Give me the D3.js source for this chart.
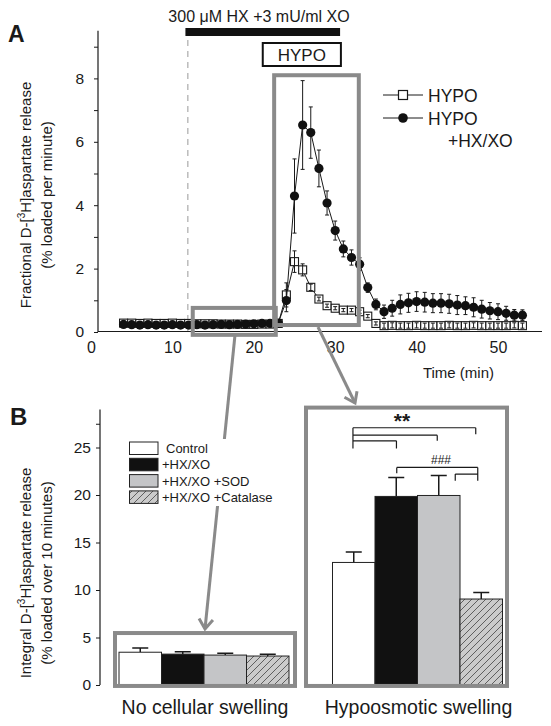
<!DOCTYPE html>
<html><head><meta charset="utf-8">
<script src="https://cdn.jsdelivr.net/npm/d3@7"></script>
<style>
body{margin:0;background:#fff}
svg{display:block}
text{font-family:"Liberation Sans",Arial,Helvetica,sans-serif;fill:#1a1a1a}
</style>
</head><body>
<svg id="c" width="551" height="726"></svg>
<script>
// ---------- Panel A data ----------
const times = [4,5,6,7,8,9,10,11,12,13,14,15,16,17,18,19,20,21,22,23,24,25,26,27,28,29,30,31,32,33,34,35,36,37,38,39,40,41,42,43,44,45,46,47,48,49,50,51,52,53];
const hypoVals = [0.28,0.28,0.27,0.28,0.27,0.27,0.28,0.27,0.27,0.26,0.26,0.26,0.25,0.25,0.25,0.24,0.24,0.25,0.25,0.27,
  1.17,2.22,1.96,1.41,1.04,0.83,0.75,0.69,0.69,0.64,0.50,0.27,
  0.20,0.21,0.20,0.20,0.21,0.20,0.20,0.20,0.21,0.20,0.20,0.21,0.20,0.20,0.20,0.20,0.21,0.20];
const hypoErr = [0.04,0.04,0.04,0.04,0.04,0.04,0.04,0.04,0.04,0.04,0.04,0.04,0.04,0.04,0.04,0.04,0.04,0.04,0.04,0.05,
  0.38,0.34,0.19,0.10,0.06,0.05,0.05,0.05,0.05,0.05,0.05,0.05,
  0.08,0.08,0.08,0.08,0.08,0.08,0.08,0.08,0.08,0.08,0.08,0.08,0.08,0.08,0.08,0.08,0.08,0.08];
const hxxoVals = [0.24,0.23,0.22,0.23,0.22,0.22,0.23,0.22,0.22,0.23,0.22,0.23,0.24,0.23,0.24,0.25,0.26,0.27,0.27,0.28,
  0.99,4.29,6.53,6.29,5.16,4.07,3.20,2.62,2.35,2.14,1.40,0.87,
  0.64,0.75,0.87,0.92,0.96,0.94,0.91,0.91,0.89,0.85,0.83,0.78,0.72,0.67,0.64,0.59,0.53,0.53];
const hxxoErr = [0.05,0.05,0.05,0.05,0.05,0.05,0.05,0.05,0.05,0.05,0.05,0.05,0.05,0.05,0.05,0.05,0.05,0.05,0.05,0.05,
  0.35,1.17,1.40,0.81,0.58,0.38,0.30,0.25,0.24,0.20,0.15,0.17,
  0.21,0.25,0.30,0.30,0.31,0.31,0.30,0.30,0.30,0.30,0.28,0.30,0.28,0.26,0.25,0.22,0.18,0.17];
const xTickValsA = [0,10,20,30,40,50];
const yTickValsA = [0,1,2,3,4,5,6,7,8,9];
const yLabelValsA = [0,2,4,6,8];

// ---------- Panel B data ----------
const groups = ["No cellular swelling","Hypoosmotic swelling"];
const seriesB = ["Control","+HX/XO","+HX/XO +SOD","+HX/XO +Catalase"];
const controlVals = [3.45, 12.9];
const hxxoBVals = [3.25, 19.85];
const sodVals = [3.15, 19.95];
const catalaseVals = [3.05, 9.05];
const controlErr = [0.45, 1.1];
const hxxoBErr = [0.25, 2.0];
const sodErr = [0.2, 2.1];
const catalaseErr = [0.2, 0.7];
const yTickValsB = [0,5,10,15,20,25,27.5];

const svg = d3.select("#c");
const ink = "#1a1a1a", grayBox = "#8a8a8a";

// ================= PANEL A =================
const xT = d3.scaleLinear().domain([0,50]).range([91,498]);
const yT = d3.scaleLinear().domain([0,9.5]).range([332,30.85]);
const axX = 98;

svg.append("text").attr("x",8).attr("y",42).attr("font-size",23).attr("font-weight","bold").text("A");

svg.append("text").attr("x",259).attr("y",22).attr("text-anchor","middle").attr("font-size",16)
  .text("300 \u03BCM HX +3 mU/ml XO");
const hxStart = 11.6, hxEnd = 30.6, dashT = 11.9, hypoStart = 21.1, hypoEnd = 30.7;
svg.append("rect").attr("x",xT(hxStart)).attr("y",28).attr("width",xT(hxEnd)-xT(hxStart)).attr("height",8).attr("fill","#111");
svg.append("line").attr("x1",xT(dashT)).attr("x2",xT(dashT)).attr("y1",40).attr("y2",yT(0))
  .attr("stroke","#999").attr("stroke-width",1).attr("stroke-dasharray","6,5");
svg.append("rect").attr("x",xT(hypoStart)).attr("y",43).attr("width",xT(hypoEnd)-xT(hypoStart)).attr("height",23)
  .attr("fill","#fff").attr("stroke","#111").attr("stroke-width",2);
svg.append("text").attr("x",(xT(hypoStart)+xT(hypoEnd))/2).attr("y",61).attr("text-anchor","middle").attr("font-size",17).text("HYPO");

const gyA = svg.append("g").attr("transform",`translate(${axX},0)`)
  .call(d3.axisLeft(yT).tickValues(yTickValsA).tickSize(4).tickSizeOuter(0).tickPadding(10)
    .tickFormat(d => yLabelValsA.includes(d) ? d : ""));
gyA.select(".domain").remove();
gyA.selectAll("line").attr("stroke",ink);
gyA.selectAll("text").attr("font-size",15.5).attr("font-family",null).attr("fill",ink);
svg.append("line").attr("x1",axX).attr("x2",axX).attr("y1",yT(9.5)).attr("y2",yT(0)).attr("stroke",ink).attr("stroke-width",1.2);
svg.append("line").attr("x1",axX).attr("x2",542).attr("y1",yT(0)-0.5).attr("y2",yT(0)-0.5).attr("stroke",ink).attr("stroke-width",1.2);
const gxA = svg.append("g").attr("transform",`translate(0,${yT(0)})`)
  .call(d3.axisBottom(xT).tickValues(xTickValsA).tickSize(0).tickPadding(9.5));
gxA.select(".domain").remove();
gxA.selectAll("text").attr("font-size",16).attr("font-family",null).attr("fill",ink);
svg.append("text").attr("x",494).attr("y",378).attr("text-anchor","end").attr("font-size",15).text("Time (min)");

const ytA = svg.append("text").attr("transform","translate(31,195) rotate(-90)").attr("text-anchor","middle").attr("font-size",15);
ytA.append("tspan").text("Fractional D-[");
ytA.append("tspan").attr("dy",-6).attr("font-size",10).text("3");
ytA.append("tspan").attr("dy",6).text("H]aspartate release");
svg.append("text").attr("transform","translate(52,195) rotate(-90)").attr("text-anchor","middle").attr("font-size",15)
  .text("(% loaded per minute)");

const hypoData = times.map((t,i)=>({t, v:hypoVals[i], e:hypoErr[i]}));
const hxxoData = times.map((t,i)=>({t, v:hxxoVals[i], e:hxxoErr[i]}));
const line = d3.line().x(d=>xT(d.t)).y(d=>yT(d.v));

function errBars(g, data){
  const eb = g.selectAll(".eb").data(data).enter().append("g");
  eb.append("line").attr("x1",d=>xT(d.t)).attr("x2",d=>xT(d.t)).attr("y1",d=>yT(d.v+d.e)).attr("y2",d=>yT(d.v-d.e)).attr("stroke",ink).attr("stroke-width",1);
  eb.append("line").attr("x1",d=>xT(d.t)-2).attr("x2",d=>xT(d.t)+2).attr("y1",d=>yT(d.v+d.e)).attr("y2",d=>yT(d.v+d.e)).attr("stroke",ink).attr("stroke-width",1);
  eb.append("line").attr("x1",d=>xT(d.t)-2).attr("x2",d=>xT(d.t)+2).attr("y1",d=>yT(d.v-d.e)).attr("y2",d=>yT(d.v-d.e)).attr("stroke",ink).attr("stroke-width",1);
}
// squares series (drawn first)
{
  const g = svg.append("g");
  g.append("path").datum(hypoData).attr("d",line).attr("fill","none").attr("stroke",ink).attr("stroke-width",1);
  g.selectAll(".m").data(hypoData).enter().append("rect").attr("x",d=>xT(d.t)-4).attr("y",d=>yT(d.v)-4).attr("width",8).attr("height",8)
    .attr("fill","#fff").attr("stroke",ink).attr("stroke-width",1.1);
  errBars(g, hypoData);
}
// filled circles series
{
  const g = svg.append("g");
  g.append("path").datum(hxxoData).attr("d",line).attr("fill","none").attr("stroke",ink).attr("stroke-width",1);
  errBars(g, hxxoData);
  g.selectAll(".m").data(hxxoData).enter().append("circle").attr("cx",d=>xT(d.t)).attr("cy",d=>yT(d.v)).attr("r",4.6).attr("fill","#111");
}

const bigBox = {t0:22.5, t1:32.9, v0:0.22, v1:8.1};
const smallBox = {t0:12.5, t1:22.7, v0:-0.09, v1:0.76};
[bigBox, smallBox].forEach(b=>{
  svg.append("rect").attr("x",xT(b.t0)).attr("y",yT(b.v1)).attr("width",xT(b.t1)-xT(b.t0)).attr("height",yT(b.v0)-yT(b.v1))
    .attr("fill","none").attr("stroke",grayBox).attr("stroke-width",4);
});

const legA = [{label:"HYPO", kind:"square", y:95},{label:"HYPO", kind:"circle", y:118}];
legA.forEach(l=>{
  svg.append("line").attr("x1",383).attr("x2",423).attr("y1",l.y).attr("y2",l.y).attr("stroke",ink).attr("stroke-width",1);
  if(l.kind==="circle") svg.append("circle").attr("cx",403).attr("cy",l.y).attr("r",4.8).attr("fill","#111");
  else svg.append("rect").attr("x",398.5).attr("y",l.y-4.5).attr("width",9).attr("height",9).attr("fill","#fff").attr("stroke",ink).attr("stroke-width",1.2);
  svg.append("text").attr("x",428).attr("y",l.y+6.5).attr("font-size",17.5).text(l.label);
});
svg.append("text").attr("x",448).attr("y",147).attr("font-size",17.5).text("+HX/XO");

// ================= PANEL B =================
const yB = d3.scaleLinear().domain([0,29]).range([685,409.5]);
const xG = d3.scalePoint().domain(groups).range([204,417.5]);
const xS = d3.scaleBand().domain(seriesB).range([-85,85]).padding(0);
const axXB = 100;

function arrow(x1,y1,x2,y2){
  svg.append("line").attr("x1",x1).attr("y1",y1).attr("x2",x2).attr("y2",y2).attr("stroke",grayBox).attr("stroke-width",3);
  const a = Math.atan2(y2-y1,x2-x1), L=12, w=0.62;
  const p = [[x2-L*Math.cos(a-w), y2-L*Math.sin(a-w)],[x2,y2],[x2-L*Math.cos(a+w), y2-L*Math.sin(a+w)]];
  svg.append("path").attr("d",d3.line()(p)).attr("fill","none").attr("stroke",grayBox).attr("stroke-width",3);
}
arrow(235,335,205,629);
arrow(318,327,355,403);

svg.append("text").attr("x",10).attr("y",425).attr("font-size",24).attr("font-weight","bold").text("B");

const gyB = svg.append("g").attr("transform",`translate(${axXB},0)`)
  .call(d3.axisLeft(yB).tickValues(yTickValsB).tickSize(4).tickSizeOuter(0).tickPadding(5)
    .tickFormat(d => Number.isInteger(d) ? d : ""));
gyB.select(".domain").remove();
gyB.selectAll("line").attr("stroke",ink);
gyB.selectAll("text").attr("font-size",15.5).attr("font-family",null).attr("fill",ink);
svg.append("line").attr("x1",axXB).attr("x2",axXB).attr("y1",yB(29)).attr("y2",yB(0)).attr("stroke",ink).attr("stroke-width",1.2);

const ytB = svg.append("text").attr("transform","translate(31,573) rotate(-90)").attr("text-anchor","middle").attr("font-size",15);
ytB.append("tspan").text("Integral D-[");
ytB.append("tspan").attr("dy",-6).attr("font-size",10).text("3");
ytB.append("tspan").attr("dy",6).text("H]aspartate release");
svg.append("text").attr("transform","translate(52,573) rotate(-90)").attr("text-anchor","middle").attr("font-size",15)
  .text("(% loaded over 10 minutes)");

const defs = svg.append("defs");
const pat = defs.append("pattern").attr("id","hatch").attr("patternUnits","userSpaceOnUse").attr("width",7).attr("height",7);
pat.append("rect").attr("width",7).attr("height",7).attr("fill","#cbcbcb");
pat.append("path").attr("d","M0,7 L7,0 M-1,1 L1,-1 M6,8 L8,6").attr("stroke","#444").attr("stroke-width",0.8);

const fills = {"Control":"#fff","+HX/XO":"#111","+HX/XO +SOD":"#c4c5c7","+HX/XO +Catalase":"url(#hatch)"};
const valsBy = {"Control":controlVals,"+HX/XO":hxxoBVals,"+HX/XO +SOD":sodVals,"+HX/XO +Catalase":catalaseVals};
const errBy = {"Control":controlErr,"+HX/XO":hxxoBErr,"+HX/XO +SOD":sodErr,"+HX/XO +Catalase":catalaseErr};

const barData = [];
groups.forEach((g,gi)=>seriesB.forEach(s=>barData.push({g, s, v:valsBy[s][gi], e:errBy[s][gi]})));
const bx = d => xG(d.g)+xS(d.s);
const bc = d => bx(d)+xS.bandwidth()/2;

svg.selectAll(".ebB").data(barData).enter().append("path")
  .attr("d",d=>`M${bc(d)},${yB(d.v)}V${yB(d.v+d.e)}M${bc(d)-8},${yB(d.v+d.e)}H${bc(d)+8}`)
  .attr("stroke",ink).attr("stroke-width",1.5).attr("fill","none");
svg.selectAll(".bar").data(barData).enter().append("rect")
  .attr("x",bx).attr("y",d=>yB(d.v)).attr("width",xS.bandwidth()).attr("height",d=>yB(0)-yB(d.v))
  .attr("fill",d=>fills[d.s]).attr("stroke","#222").attr("stroke-width",1);

const boxB = [{g:groups[0], dx0:-89, dx1:91, top:5.47},{g:groups[1], dx0:-111.5, dx1:89.5, top:29.2}];
boxB.forEach(b=>{
  svg.append("rect").attr("x",xG(b.g)+b.dx0).attr("y",yB(b.top)).attr("width",b.dx1-b.dx0).attr("height",yB(-0.1)-yB(b.top))
    .attr("fill","none").attr("stroke",grayBox).attr("stroke-width",4);
});
groups.forEach(g=>{
  svg.append("text").attr("x",xG(g)+1).attr("y",714).attr("text-anchor","middle").attr("font-size",19.5).text(g);
});

const cg = groups[1];
const cx = s => xG(cg)+xS(s)+xS.bandwidth()/2;
const br = d3.path();
const sl = (x1,y1,x2,y2)=>{br.moveTo(x1,y1);br.lineTo(x2,y2);};
const xc0 = cx("Control")-0.8;
sl(xc0,yB(27.08),xc0,yB(24.9));
sl(xc0,yB(27.08),cx("+HX/XO +Catalase")-5.5,yB(27.08)); sl(cx("+HX/XO +Catalase")-5.5,yB(27.08),cx("+HX/XO +Catalase")-5.5,yB(26.4));
sl(xc0,yB(26.3),cx("+HX/XO +SOD")-1.5,yB(26.3)); sl(cx("+HX/XO +SOD")-1.5,yB(26.3),cx("+HX/XO +SOD")-1.5,yB(25.7));
sl(xc0,yB(25.7),cx("+HX/XO")+0.2,yB(25.7)); sl(cx("+HX/XO")+0.2,yB(25.7),cx("+HX/XO")+0.2,yB(24.9));
const xr = cx("+HX/XO +Catalase")-3.5;
sl(cx("+HX/XO")+0.5,yB(22.9),xr,yB(22.9)); sl(cx("+HX/XO")+0.5,yB(22.9),cx("+HX/XO")+0.5,yB(22.3));
sl(xr,yB(22.9),xr,yB(21.5));
sl(cx("+HX/XO +SOD")+16.5,yB(22.2),xr,yB(22.2)); sl(cx("+HX/XO +SOD")+16.5,yB(22.2),cx("+HX/XO +SOD")+16.5,yB(21.5));
svg.append("path").attr("d",br.toString()).attr("stroke",ink).attr("stroke-width",1.2).attr("fill","none");
svg.append("text").attr("x",402).attr("y",428).attr("text-anchor","middle").attr("font-size",21).attr("font-weight","bold").text("**");
svg.append("text").attr("x",441).attr("y",464).attr("text-anchor","middle").attr("font-size",12).attr("fill","#222").text("###");

svg.append("rect").attr("x",127).attr("y",439).attr("width",152).attr("height",67).attr("fill","#fff");
seriesB.forEach((s,i)=>{
  const y = 442 + i*16.3;
  svg.append("rect").attr("x",129.5).attr("y",y).attr("width",28.5).attr("height",12.5).attr("fill",fills[s]).attr("stroke","#222").attr("stroke-width",1);
  svg.append("text").attr("x",i===0?166:162).attr("y",y+11).attr("font-size",13).text(s);
});
</script>
</body></html>
